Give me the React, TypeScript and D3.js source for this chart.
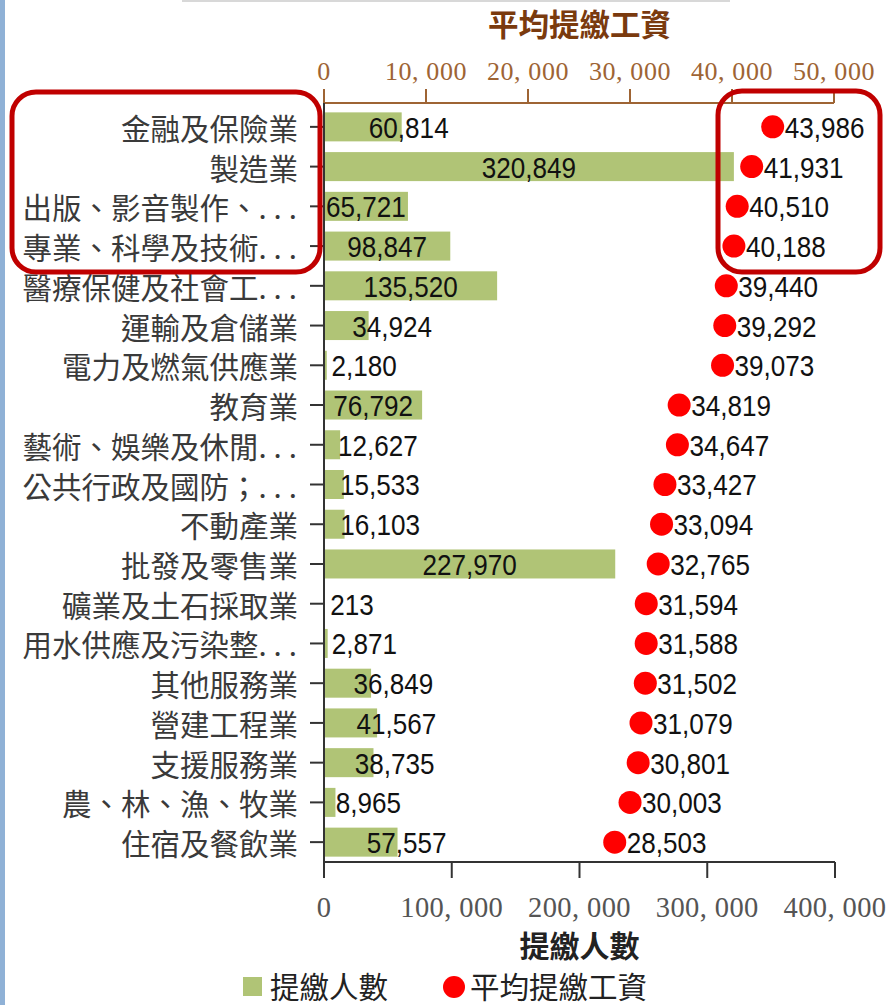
import React from "react";
import * as d3 from "d3";

const categories = [
  "金融及保險業",
  "製造業",
  "出版、影音製作、...",
  "專業、科學及技術...",
  "醫療保健及社會工...",
  "運輸及倉儲業",
  "電力及燃氣供應業",
  "教育業",
  "藝術、娛樂及休閒...",
  "公共行政及國防；...",
  "不動產業",
  "批發及零售業",
  "礦業及土石採取業",
  "用水供應及污染整...",
  "其他服務業",
  "營建工程業",
  "支援服務業",
  "農、林、漁、牧業",
  "住宿及餐飲業",
];

const persons = [
  60814, 320849, 65721, 98847, 135520, 34924, 2180, 76792, 12627, 15533, 16103,
  227970, 213, 2871, 36849, 41567, 38735, 8965, 57557,
];

const wages = [
  43986, 41931, 40510, 40188, 39440, 39292, 39073, 34819, 34647, 33427, 33094,
  32765, 31594, 31588, 31502, 31079, 30801, 30003, 28503,
];

const personTicks = [0, 100000, 200000, 300000, 400000];
const wageTicks = [0, 10000, 20000, 30000, 40000, 50000];

const topTitle = "平均提繳工資";
const bottomTitle = "提繳人數";
const legendLabels = ["提繳人數", "平均提繳工資"];

const W = 890;
const H = 1005;
const left = 324;
const right = 835;
const top = 103;
const bottom = 862;

const GREEN = "#b0c476";
const RED = "#ff0000";
const BROWN = "#7a3a0e";
const BROWN_L = "#9e6434";
const ANNOT = "#c00000";
const NUMFONT = "'Liberation Sans', Arial, sans-serif";
const CJK = "'Noto Sans CJK TC', 'Noto Sans CJK SC', sans-serif";
const SERIF = "'Liberation Serif', 'DejaVu Serif', serif";

const fmt = d3.format(",");
const axisFmt = (v: number) => fmt(v).replace(/,/g, ", ");

function Num({ x, y, anchor, children }: { x: number; y: number; anchor: string; children: React.ReactNode }) {
  return (
    <text
      transform={`translate(${x},${y}) scale(0.9,1)`}
      x={0}
      y={0}
      textAnchor={anchor}
      dominantBaseline="central"
      fontFamily={NUMFONT}
      fontSize={29}
      fill="#111"
    >
      {children}
    </text>
  );
}

export default function App() {
  const x = d3.scaleLinear().domain([0, 400000]).range([left, right]);
  const xw = d3.scaleLinear().domain([0, 50000]).range([left, right - 1]);
  const y = d3
    .scaleBand<string>()
    .domain(categories)
    .range([107, bottom])
    .paddingInner(0.27)
    .paddingOuter(0.135);
  const bw = y.bandwidth();

  return (
    <div>
      <style>{`body{margin:0;background:#fff}`}</style>
      <svg width={W} height={H} style={{ display: "block" }}>
        <rect x={0} y={0} width={W} height={H} fill="#fff" />
        <rect x={0} y={0} width={5} height={H} fill="#8fb1d6" />
        <line x1={182} x2={730} y1={1} y2={1} stroke="#d8d8d8" strokeWidth={2} />

        {/* top title */}
        <text
          x={(left + right) / 2}
          y={23}
          textAnchor="middle"
          dominantBaseline="central"
          fontFamily={CJK}
          fontWeight="bold"
          fontSize={30.5}
          fill={BROWN}
        >
          {topTitle}
        </text>

        {/* top axis */}
        <line x1={left} x2={xw(50000)} y1={top} y2={top} stroke={BROWN_L} strokeWidth={2} />
        {wageTicks.map((t) => (
          <g key={"wt" + t}>
            <line x1={xw(t)} x2={xw(t)} y1={top} y2={top - 14} stroke={BROWN_L} strokeWidth={2} />
            <text
              x={xw(t)}
              y={71}
              textAnchor="middle"
              dominantBaseline="central"
              fontFamily={SERIF}
              fontSize={26}
              letterSpacing={0.6}
              fill={BROWN_L}
            >
              {axisFmt(t)}
            </text>
          </g>
        ))}

        {/* bars */}
        {categories.map((c, i) => (
          <rect
            key={"b" + i}
            x={x(0)}
            y={y(c)}
            width={x(persons[i]) - x(0)}
            height={bw}
            fill={GREEN}
          />
        ))}

        {/* category axis */}
        <line x1={left} x2={left} y1={top} y2={bottom} stroke="#333" strokeWidth={2} />
        {categories.map((c, i) => {
          const cy = (y(c) as number) + bw / 2;
          const idx = c.indexOf("...");
          const main = idx >= 0 ? c.slice(0, idx) : c;
          return (
            <g key={"c" + i}>
              <line x1={left - 14} x2={left} y1={cy} y2={cy} stroke="#333" strokeWidth={2} />
              <text
                x={idx >= 0 ? 304 : 298}
                y={cy}
                textAnchor="end"
                dominantBaseline="central"
                fontFamily={CJK}
                fontSize={29.5}
                fill="#3a3a3a"
              >
                {main}
                {idx >= 0 ? <tspan letterSpacing={7}>...</tspan> : null}
              </text>
            </g>
          );
        })}

        {/* bar labels */}
        {categories.map((c, i) => {
          const cy = (y(c) as number) + bw / 2;
          const w = x(persons[i]) - x(0);
          const mid = (x(0) + x(persons[i])) / 2;
          const fits = w >= 80;
          return (
            <Num key={"bl" + i} x={fits ? mid : mid + 6} y={cy + 1} anchor={fits ? "middle" : "start"}>
              {fmt(persons[i])}
            </Num>
          );
        })}

        {/* wage dots */}
        {categories.map((c, i) => {
          const cy = (y(c) as number) + bw / 2;
          return (
            <g key={"d" + i}>
              <circle cx={xw(wages[i])} cy={cy} r={11.5} fill={RED} />
              <Num x={xw(wages[i]) + 12} y={cy + 1} anchor="start">
                {fmt(wages[i])}
              </Num>
            </g>
          );
        })}

        {/* bottom axis */}
        <line x1={left} x2={right} y1={bottom} y2={bottom} stroke="#333" strokeWidth={2} />
        {personTicks.map((t) => (
          <g key={"pt" + t}>
            <line x1={x(t)} x2={x(t)} y1={bottom} y2={bottom + 16} stroke="#333" strokeWidth={2} />
            <text
              x={x(t)}
              y={907}
              textAnchor="middle"
              dominantBaseline="central"
              fontFamily={SERIF}
              fontSize={28.5}
              letterSpacing={0.4}
              fill="#555"
            >
              {axisFmt(t)}
            </text>
          </g>
        ))}
        <text
          x={(left + right) / 2}
          y={944}
          textAnchor="middle"
          dominantBaseline="central"
          fontFamily={CJK}
          fontWeight="bold"
          fontSize={30}
          fill="#222"
        >
          {bottomTitle}
        </text>

        {/* legend */}
        <rect x={243} y={977} width={19} height={19} fill={GREEN} />
        <text x={270} y={985} dominantBaseline="central" fontFamily={CJK} fontSize={29.5} fill="#222">
          {legendLabels[0]}
        </text>
        <circle cx={454} cy={987} r={11} fill={RED} />
        <text x={470} y={985} dominantBaseline="central" fontFamily={CJK} fontSize={29.5} fill="#222">
          {legendLabels[1]}
        </text>

        {/* annotation boxes */}
        <rect x={12} y={92} width={308} height={180} rx={24} fill="none" stroke={ANNOT} strokeWidth={5} />
        <rect x={718} y={91} width={162} height={181} rx={24} fill="none" stroke={ANNOT} strokeWidth={5} />
      </svg>
    </div>
  );
}
